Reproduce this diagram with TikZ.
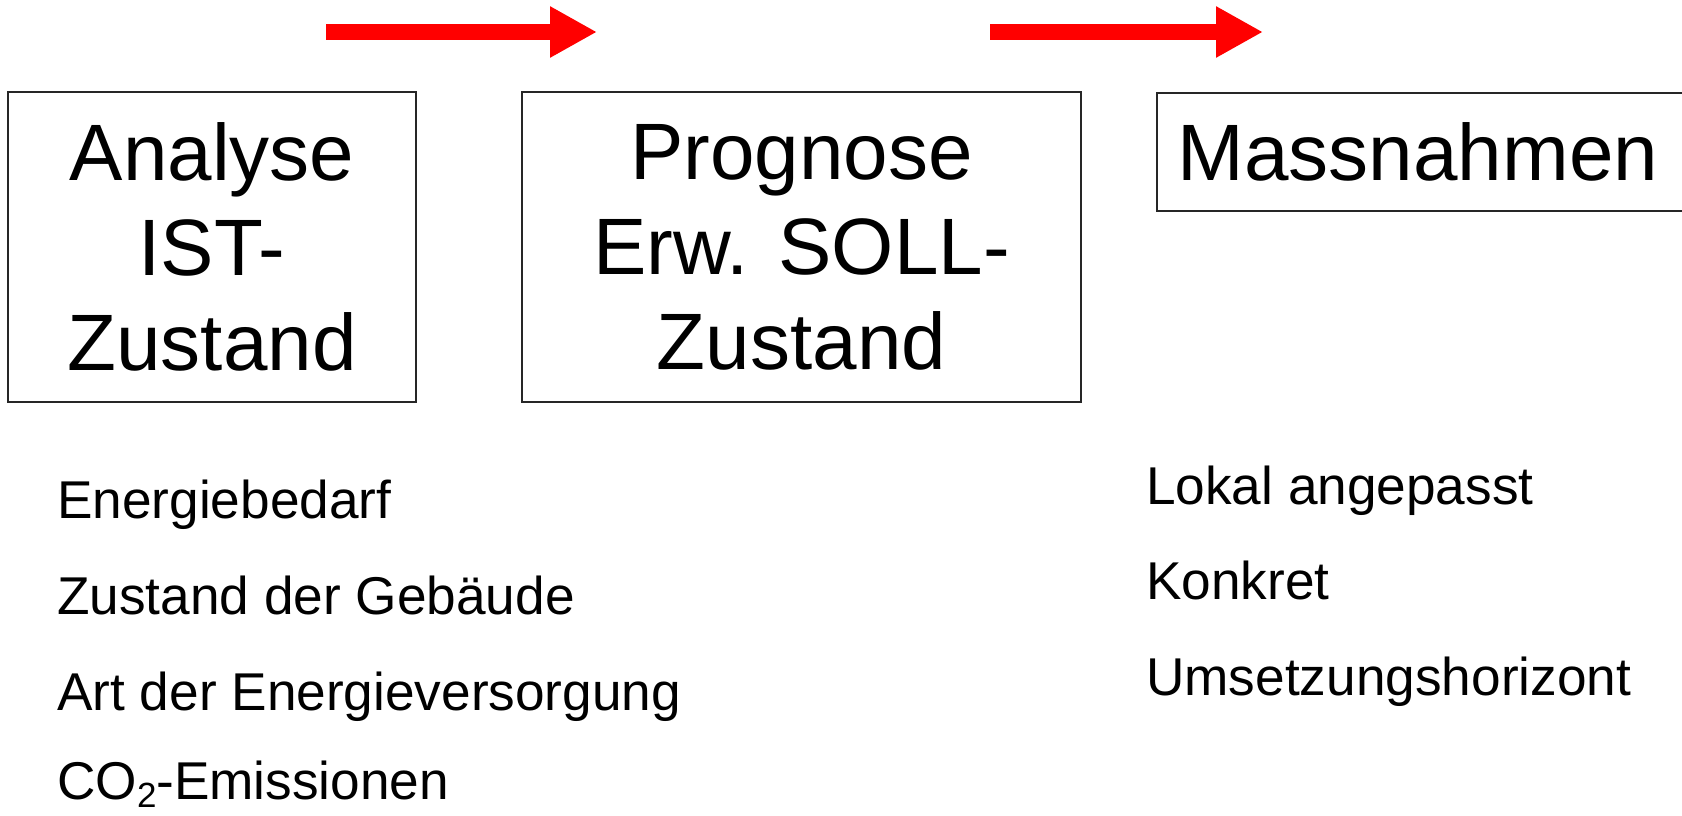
\documentclass[tikz,border=0pt]{standalone}
\usepackage{fontspec}
\setmainfont{Liberation Sans}
\usetikzlibrary{arrows.meta}
\begin{document}
\begin{tikzpicture}[x=1pt,y=-1pt,
  boxtext/.style={draw=black!85, line width=1.6pt, inner sep=0pt, align=center,
    font=\fontsize{80}{95}\selectfont},
  listitem/.style={anchor=base west, inner sep=0pt, font=\fontsize{53.2}{60}\selectfont},
  bigarrow/.style={draw=red, line width=16pt, -{Triangle[length=47pt,width=48pt]}}]
\clip (0,0) rectangle (1682,816);
\fill[white] (0,0) rectangle (1682,816);
% boxes
\node[boxtext, minimum width=408pt, minimum height=310pt] (ist) at (212,247)
  {Analyse\\IST-\\Zustand};
\node[boxtext, minimum width=559pt, minimum height=310pt] (soll) at (801.5,247)
  {Prognose\\Erw. SOLL-\\Zustand};
\node[boxtext, anchor=north west, minimum width=700pt, minimum height=118pt,
  text width=658pt, inner xsep=21pt, align=left] (mass) at (1156,92) {Massnahmen};
% arrows
\coordinate (a1s) at (326,32);
\coordinate (a1e) at (597,32);
\coordinate (a2s) at (990,32);
\coordinate (a2e) at (1263,32);
\draw[bigarrow] (a1s) -- (a1e);
\draw[bigarrow] (a2s) -- (a2e);
% left list
\node[listitem] (l1) at (57,518) {Energiebedarf};
\node[listitem] (l2) at (57,614) {Zustand der Gebäude};
\node[listitem] (l3) at (57,710) {Art der Energieversorgung};
\node[listitem] (l4) at (57,799) {CO\raisebox{-0.16em}{\fontsize{35}{35}\selectfont 2}-Emissionen};
% right list
\node[listitem] (r1) at (1146,504) {Lokal angepasst};
\node[listitem] (r2) at (1146,599) {Konkret};
\node[listitem] (r3) at (1146,695) {Umsetzungshorizont};
\end{tikzpicture}
\end{document}
